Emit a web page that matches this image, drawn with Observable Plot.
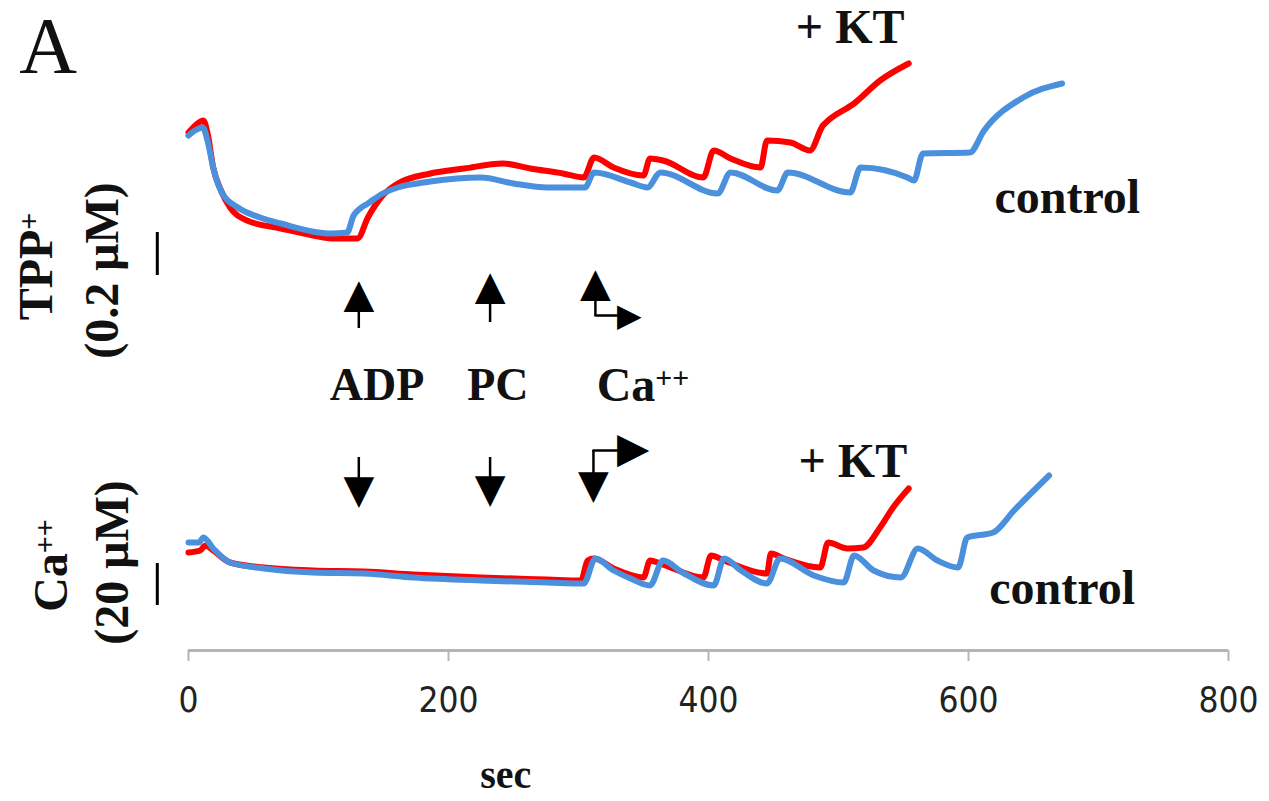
<!DOCTYPE html>
<html>
<head>
<meta charset="utf-8">
<script src="https://cdn.jsdelivr.net/npm/d3@7"></script>
<script src="https://cdn.jsdelivr.net/npm/@observablehq/plot@0.6"></script>
<style>
  html, body { margin: 0; padding: 0; background: #fff; }
  #chart { width: 1269px; height: 801px; }
</style>
</head>
<body>
<div id="chart"></div>
<script>
// ---------- data (time in s, trace level in a.u.) ----------
const tppKtTime  = [0,6,11.5,15,19,25,32,45,71,96,112,130,138,148,161,186,212,242,263,288,304,312,327,350,355,365,396,404,417,440,445,463,478,488,492,512,532,554];
const tppKtValue = [518,526,530,515,483,460,443,430,422,415,412,412,433,453,467,477,482,487,482,477,473,493,483,475,492,490,473,500,492,483,510,508,500,525,530,547,570,587];

const tppCtlTime  = [0,5,11,14.6,19,26,38,55,71,109,122,127,132,138,148,161,186,225,250,276,305,312,340,353,363,407,417,453,461,509,517,553,558,565,601,612,642,672];
const tppCtlValue = [515,520,523,510,483,457,443,433,427,417,418,435,442,447,456,463,469,473,467,463,463,478,468,463,478,457,478,460,478,458,483,473,470,497,498,520,553,567];

const caKtTime  = [0,9,13,19,32,58,96,135,173,225,276,302,307,312,327,350,355,363,396,402,412,445,448,458,486,492,507,519,532,542,554];
const caKtValue = [98,100,105,100,88,83,80,79,76,73,71,70,90,92,82,73,90,87,73,95,90,77,97,92,83,108,102,103,123,143,162];

const caCtlTime  = [0,8,11.5,19,32,58,96,135,173,225,276,304,313,327,340,355,365,380,404,412,425,445,455,481,504,512,527,548,561,576,592,599,619,635,662];
const caCtlValue = [108,108,113,102,88,82,78,77,73,70,68,67,92,80,72,65,90,78,65,92,80,67,92,75,68,95,80,73,102,90,83,113,118,140,175];

const xTicks = [0, 200, 400, 600, 800];
const eventNames = ["ADP", "PC", "Ca^++"];
const eventTimes = [131, 232, 313];
const tppScaleBar = [375, 418];   // 0.2 µM
const caScaleBar  = [45, 87];     // 20 µM

// ---------- tables ----------
const toRows = (ts, vs) => ts.map((t, i) => ({t, v: vs[i]}));
const tppKt  = toRows(tppKtTime, tppKtValue);
const tppCtl = toRows(tppCtlTime, tppCtlValue);
const caKt   = toRows(caKtTime, caKtValue);
const caCtl  = toRows(caCtlTime, caCtlValue);

const RED = "#ff0000", BLUE = "#4a90dc";
const SERIF = "'Liberation Serif', 'Times New Roman', serif";
const SANS_N = "'Liberation Sans Narrow', 'DejaVu Sans Condensed', 'Open Sans', sans-serif";
const GLYPH = "'DejaVu Sans', sans-serif";
const lab = {fontFamily: SERIF, fontWeight: "bold", fontSize: 48, fill: "#111"};
const traceStyle = {x: "t", y: "v", strokeWidth: 6, strokeLinejoin: "round", strokeLinecap: "round", curve: "monotone-x"};

// arrow layout (per event)
const upStemLo = [322, 328, 335], upHead = [356, 364, 367];
const dnStemHi = [193, 193, 200], dnHead = [160, 161, 165];
const dnX = (d, i) => i === 2 ? d - 1.5 : d;

const chart = Plot.plot({
  width: 1269,
  height: 801,
  marginLeft: 188,
  marginRight: 41,
  marginTop: 0,
  marginBottom: 151,
  x: {domain: [0, 800], axis: null},
  y: {domain: [0, 650], axis: null},
  style: {background: "#fff", overflow: "visible"},
  marks: [
    // x axis
    Plot.ruleY([0], {stroke: "#b5b5b5", strokeWidth: 3}),
    Plot.ruleX(xTicks, {x: d => d, y1: 0, y2: -11, stroke: "#b5b5b5", strokeWidth: 2}),
    Plot.text(xTicks, {x: d => d, y: 0, dy: 50, text: d => String(d), fontFamily: SANS_N, fontSize: 35, fill: "#222"}),
    Plot.text(["sec"], {x: 244, y: 0, dy: 125, text: d => d, ...lab, fontSize: 40}),

    // traces
    Plot.line(tppKt,  {...traceStyle, stroke: RED}),
    Plot.line(tppCtl, {...traceStyle, stroke: BLUE}),
    Plot.line(caKt,   {...traceStyle, stroke: RED}),
    Plot.line(caCtl,  {...traceStyle, stroke: BLUE}),

    // event arrows (up, towards TPP trace)
    Plot.ruleX(eventTimes, {x: d => d, y1: (d, i) => upStemLo[i], y2: (d, i) => upHead[i], stroke: "#000", strokeWidth: 2.5}),
    Plot.text(eventTimes, {x: d => d, y: (d, i) => upHead[i], text: () => "▲", fontFamily: GLYPH, fontSize: 40, fill: "#000"}),
    // event arrows (down, towards Ca trace)
    Plot.ruleX(eventTimes, {x: dnX, y1: (d, i) => dnStemHi[i], y2: (d, i) => dnHead[i], stroke: "#000", strokeWidth: 2.5}),
    Plot.text(eventTimes, {x: dnX, y: (d, i) => dnHead[i], text: () => "▼", fontFamily: GLYPH, fontSize: 40, fill: "#000"}),
    // Ca elbows
    Plot.line([[313, 335], [332, 335]], {x: d => d[0], y: d => d[1], stroke: "#000", strokeWidth: 2.5}),
    Plot.text([[339, 335]], {x: d => d[0], y: d => d[1], text: () => "▶", fontFamily: GLYPH, fontSize: 32, fill: "#000"}),
    Plot.line([[311.5, 200], [334, 200]], {x: d => d[0], y: d => d[1], stroke: "#000", strokeWidth: 2.5}),
    Plot.text([[342, 202]], {x: d => d[0], y: d => d[1], text: () => "▶", fontFamily: GLYPH, fontSize: 42, fill: "#000"}),

    // event labels
    Plot.text(eventNames.slice(0, 2), {x: (d, i) => [145, 238][i], y: 265, text: d => d, ...lab, fontSize: 46}),
    Plot.text(eventNames.slice(2), {x: 314, y: 265, text: d => d, textAnchor: "start", ...lab, fontSize: 48}),

    // trace labels
    Plot.text(["+ KT"], {x: 509, y: 623, text: d => d, ...lab}),
    Plot.text(["+ KT"], {x: 511, y: 189, text: d => d, ...lab}),
    Plot.text(["control"], {x: 676, y: 453, text: d => d, ...lab}),
    Plot.text(["control"], {x: 672, y: 62, text: d => d, ...lab}),

    // panel letter
    Plot.text(["A"], {x: -108, y: 603, text: d => d, fontFamily: SERIF, fontSize: 80, fill: "#111"}),

    // y labels and scale bars
    Plot.text(["TPP^+"], {x: -117, y: 384, text: d => d, rotate: -90, ...lab}),
    Plot.text(["(0.2 μM)"], {x: -66, y: 380, text: d => d, rotate: -90, ...lab}),
    Plot.text(["Ca^++"], {x: -105, y: 85, text: d => d, rotate: -90, ...lab}),
    Plot.text(["(20 μM)"], {x: -58, y: 88, text: d => d, rotate: -90, ...lab}),
    Plot.ruleX([-24], {y1: tppScaleBar[0], y2: tppScaleBar[1], stroke: "#000", strokeWidth: 3}),
    Plot.ruleX([-24], {y1: caScaleBar[0], y2: caScaleBar[1], stroke: "#000", strokeWidth: 3})
  ]
});

// superscripts: "base^sup" -> base + raised smaller tspan
d3.select(chart).selectAll("text").each(function () {
  const t = this.textContent;
  if (t.includes("^")) {
    const [base, sup] = t.split("^");
    const sel = d3.select(this);
    sel.text(null);
    sel.append("tspan").text(base);
    sel.append("tspan").attr("dy", "-0.42em").style("font-size", "62%").text(sup);
  }
});

document.getElementById("chart").appendChild(chart);
</script>
</body>
</html>
